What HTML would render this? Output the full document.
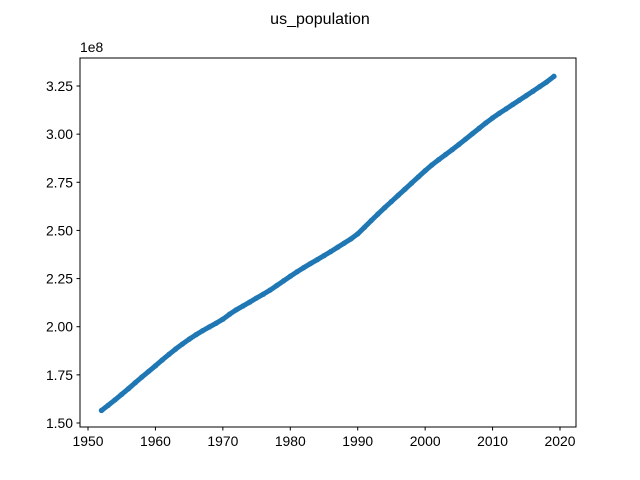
<!DOCTYPE html>
<html><head><meta charset="utf-8"><style>
body{margin:0;background:#fff}
svg{display:block;font-family:"Liberation Sans","DejaVu Sans",sans-serif}
</style></head><body>
<svg id="chart" width="640" height="480">
<text x="320" y="24" text-anchor="middle" font-size="16">us_population</text>
<text x="80" y="52" font-size="13.9">1e8</text>
<g id="ticks"></g>
<g id="series"></g>
<rect x="80" y="58" width="496" height="369" fill="none" stroke="#000" stroke-width="1"/>
</svg>
<script>
const years=[1952,1953,1954,1955,1956,1957,1958,1959,1960,1961,1962,1963,1964,1965,1966,1967,1968,1969,1970,1971,1972,1973,1974,1975,1976,1977,1978,1979,1980,1981,1982,1983,1984,1985,1986,1987,1988,1989,1990,1991,1992,1993,1994,1995,1996,1997,1998,1999,2000,2001,2002,2003,2004,2005,2006,2007,2008,2009,2010,2011,2012,2013,2014,2015,2016,2017,2018,2019.1];
const population=[1.565,1.592,1.620,1.649,1.678,1.709,1.739,1.768,1.797,1.827,1.856,1.884,1.910,1.935,1.958,1.979,1.999,2.018,2.039,2.065,2.088,2.108,2.128,2.149,2.169,2.190,2.214,2.238,2.262,2.285,2.307,2.328,2.348,2.369,2.390,2.412,2.434,2.456,2.482,2.516,2.551,2.585,2.618,2.650,2.682,2.714,2.746,2.778,2.810,2.840,2.867,2.893,2.919,2.946,2.974,3.002,3.030,3.058,3.084,3.108,3.131,3.154,3.177,3.200,3.223,3.247,3.270,3.300];
const xTicks=[1950,1960,1970,1980,1990,2000,2010,2020];
const yTicks=[1.50,1.75,2.00,2.25,2.50,2.75,3.00,3.25];
const xs=v=>88+(v-1950)*(560-88)/70;
const ys=v=>423-(v-1.5)*(423-86)/1.75;
const NS="http://www.w3.org/2000/svg";
const tg=document.getElementById('ticks');
xTicks.forEach(t=>{
 const l=document.createElementNS(NS,'line');
 l.setAttribute('x1',xs(t));l.setAttribute('x2',xs(t));l.setAttribute('y1',427);l.setAttribute('y2',430.5);l.setAttribute('stroke','#000');
 
 
 tg.appendChild(l);
 const tx=document.createElementNS(NS,'text');
 tx.setAttribute('x',xs(t));tx.setAttribute('y',446);tx.setAttribute('text-anchor','middle');tx.setAttribute('font-size','13.9');
 tx.textContent=t;
 
 
 tg.appendChild(tx);
});
yTicks.forEach(t=>{
 const l=document.createElementNS(NS,'line');
 l.setAttribute('x1',76.5);l.setAttribute('x2',80);l.setAttribute('y1',ys(t));l.setAttribute('y2',ys(t));l.setAttribute('stroke','#000');
 
 
 tg.appendChild(l);
 const tx=document.createElementNS(NS,'text');
 tx.setAttribute('x',73);tx.setAttribute('y',ys(t)+5);tx.setAttribute('text-anchor','end');tx.setAttribute('font-size','13.9');
 tx.textContent=t.toFixed(2);
 
 
 tg.appendChild(tx);
});
const sg=document.getElementById('series');
const pl=document.createElementNS(NS,'polyline');
pl.setAttribute('points',years.map((y,i)=>xs(y)+','+ys(population[i])).join(' '));
pl.setAttribute('fill','none');pl.setAttribute('stroke','#1f77b4');pl.setAttribute('stroke-width','5');pl.setAttribute('stroke-linecap','round');pl.setAttribute('stroke-linejoin','round');


sg.appendChild(pl);
years.forEach((y,i)=>{
 const c=document.createElementNS(NS,'circle');
 c.setAttribute('cx',xs(y));c.setAttribute('cy',ys(population[i]));c.setAttribute('r',2.7);c.setAttribute('fill','#1f77b4');
 
 
 sg.appendChild(c);
});
</script>
</body></html>
